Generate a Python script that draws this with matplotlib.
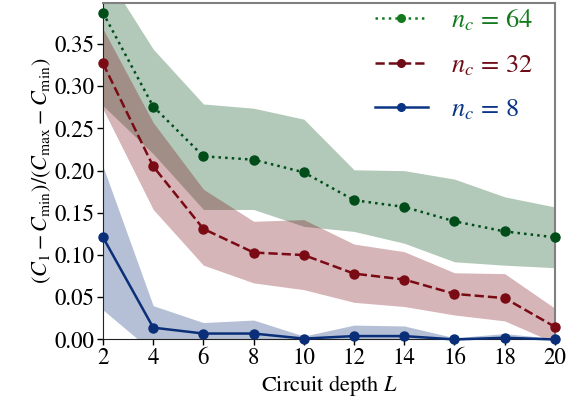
import matplotlib
import numpy as np

matplotlib.use("Agg")

from matplotlib import pyplot as plt  # noqa: E402
from matplotlib.lines import Line2D  # noqa: E402

depths = [2, 4, 6, 8, 10, 12, 14, 16, 18, 20]

nc64_mean = [0.387, 0.276, 0.217, 0.213, 0.198, 0.165, 0.157, 0.140, 0.128, 0.121]
nc64_low = [0.277, 0.220, 0.154, 0.154, 0.134, 0.128, 0.114, 0.092, 0.088, 0.085]
nc64_high = [0.438, 0.344, 0.279, 0.274, 0.261, 0.201, 0.200, 0.190, 0.169, 0.157]

nc32_mean = [0.327, 0.205, 0.131, 0.103, 0.100, 0.078, 0.071, 0.054, 0.049, 0.015]
nc32_low = [0.273, 0.154, 0.088, 0.067, 0.059, 0.044, 0.039, 0.029, 0.022, -0.004]
nc32_high = [0.368, 0.257, 0.178, 0.140, 0.142, 0.113, 0.104, 0.079, 0.078, 0.037]

nc8_mean = [0.121, 0.014, 0.007, 0.007, 0.001, 0.004, 0.004, 0.000, 0.002, 0.000]
nc8_low = [0.035, -0.015, -0.008, -0.008, -0.004, -0.006, -0.006, -0.004, -0.004, -0.004]
nc8_high = [0.205, 0.040, 0.020, 0.023, 0.004, 0.017, 0.016, 0.002, 0.007, 0.001]

labels = [r"$n_c\,=\,64$", r"$n_c\,=\,32$", r"$n_c\,=\,8$"]

plt.rcParams["font.family"] = "STIXGeneral"
plt.rcParams["mathtext.fontset"] = "stix"

figure = plt.figure(figsize=(5.81, 4.08), dpi=100)
axis = figure.add_axes([0.1773, 0.168, 0.7777, 0.8254])

series = [
    (nc64_mean, nc64_low, nc64_high, "#004d1a", ":", "#157a1e"),
    (nc32_mean, nc32_low, nc32_high, "#7a0a14", "--", "#6e0c18"),
    (nc8_mean, nc8_low, nc8_high, "#0a2f78", "-", "#0a3585"),
]

handles = []
for (mean, low, high, color, style, legend_color), label in zip(series, labels):
    axis.fill_between(depths, low, high, color=color, alpha=0.3, linewidth=0)
    axis.plot(depths, mean, linestyle=style, color=color, linewidth=1.8,
              marker="o", markersize=6.5, clip_on=False, zorder=3)
    handles.append(Line2D([], [], linestyle=style, color=legend_color,
                          linewidth=1.8, marker="o", markersize=5.5))

axis.set_xlim(2, 20)
axis.set_ylim(0, 0.399)
axis.set_xticks(depths)
axis.set_yticks([0.0, 0.05, 0.10, 0.15, 0.20, 0.25, 0.30, 0.35])
axis.yaxis.set_major_formatter(matplotlib.ticker.FormatStrFormatter("%.2f"))
axis.tick_params(labelsize=16.5, length=4, width=1, pad=2)

for side in ("top", "right"):
    axis.spines[side].set_color("#808080")
    axis.spines[side].set_linewidth(1.5)
for side in ("left", "bottom"):
    axis.spines[side].set_color("#222222")

axis.set_xlabel(r"Circuit depth $L$", fontsize=16, labelpad=3)
axis.set_ylabel(r"$(C_1 - C_{\min})/(C_{\max} - C_{\min})$", fontsize=16, labelpad=1)

legend = axis.legend(handles, labels, loc="upper right", bbox_to_anchor=(0.965, 1.0),
                     frameon=False, fontsize=19, handlelength=2.0, labelspacing=0.75,
                     borderaxespad=0.0, borderpad=0.2, handletextpad=0.9)
for text, (_, _, _, _, _, legend_color) in zip(legend.get_texts(), series):
    text.set_color(legend_color)

figure.savefig("out.png", dpi=100)
plt.close(figure)
